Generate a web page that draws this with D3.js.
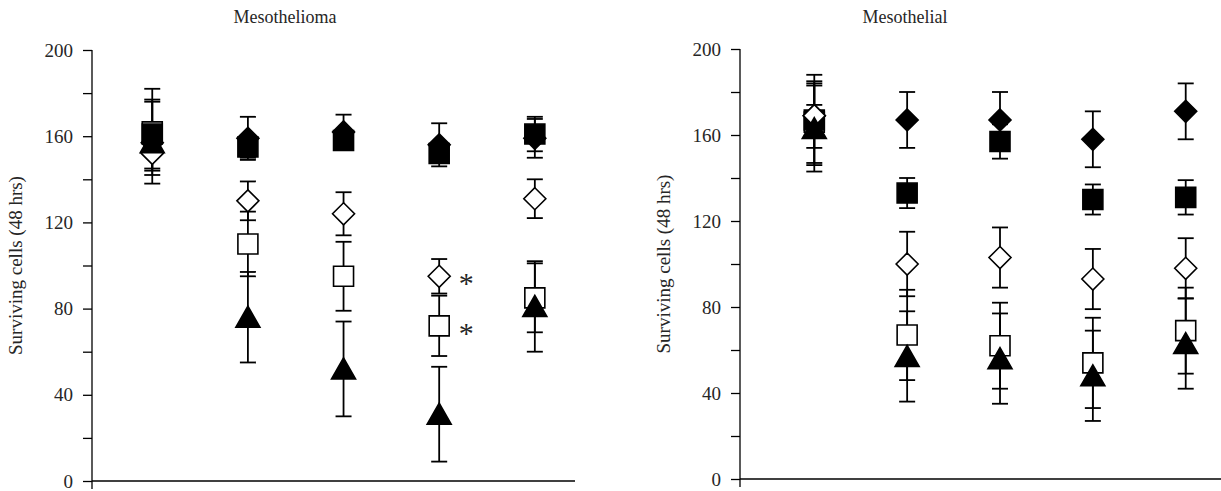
<!DOCTYPE html>
<html>
<head>
<meta charset="utf-8">
<script src="https://cdn.jsdelivr.net/npm/d3@7"></script>
<style>
  body { margin: 0; background: #fff; }
  svg text { font-family: "Liberation Serif", "DejaVu Serif", serif; fill: #262626; }
</style>
</head>
<body>
<div id="chart"></div>
<script>
// x positions are just the five treatment groups (no labels in the figure)
const groups = [1, 2, 3, 4, 5];
const yTicks = [0, 20, 40, 60, 80, 100, 120, 140, 160, 180, 200];
const yTickLabels = [0, 40, 80, 120, 160, 200];
const yTitle = "Surviving cells (48 hrs)";

// Mesothelioma panel: mean and error for each marker series
const tumorFilledDiamond = [157, 159, 162, 156, 159];
const tumorFilledDiamondErr = [6, 10, 8, 10, 9];
const tumorFilledSquare = [161, 155, 158, 152, 161];
const tumorFilledSquareErr = [16, 5, 4, 4, 8];
const tumorOpenDiamond = [152, 130, 124, 95, 131];
const tumorOpenDiamondErr = [8, 9, 10, 8, 9];
const tumorOpenSquare = [162, 110, 95, 72, 85];
const tumorOpenSquareErr = [20, 15, 16, 14, 16];
const tumorTriangle = [157, 76, 52, 31, 81];
const tumorTriangleErr = [19, 21, 22, 22, 21];
// significance marks: [group, value]
const tumorStars = [[4, 95], [4, 72]];

// Mesothelial panel
const normalFilledDiamond = [169, 167, 167, 158, 171];
const normalFilledDiamondErr = [15, 13, 13, 13, 13];
const normalFilledSquare = [167, 133, 157, 130, 131];
const normalFilledSquareErr = [21, 7, 8, 7, 8];
const normalOpenDiamond = [169, 100, 103, 93, 98];
const normalOpenDiamondErr = [5, 15, 14, 14, 14];
const normalOpenSquare = [166, 67, 62, 54, 69];
const normalOpenSquareErr = [19, 21, 20, 21, 20];
const normalTriangle = [163, 57, 56, 48, 63];
const normalTriangleErr = [20, 21, 21, 21, 21];

const W = 1221, H = 491;

// marker paths centred on their bounding box
function shapePath(shape) {
  if (shape == "square") return "M-10,-10H10V10H-10Z";
  if (shape == "diamond") return "M0,-11L11,0L0,11L-11,0Z";
  return "M0,-11L12,10L-12,10Z";
}

// drawing order, bottom to top
function seriesFor(p) {
  return [
    {vals: p.os, err: p.osErr, shape: "square", fill: "#fff"},
    {vals: p.fs, err: p.fsErr, shape: "square", fill: "#000"},
    {vals: p.fd, err: p.fdErr, shape: "diamond", fill: "#000"},
    {vals: p.od, err: p.odErr, shape: "diamond", fill: "#fff"},
    {vals: p.tri, err: p.triErr, shape: "triangle", fill: "#000"}
  ];
}

const panels = [
  {title: "Mesothelioma", titleX: 285, axisX: 92, right: 575, top: 50, bottom: 481, xDomain: [0.37, 5.42],
   fd: tumorFilledDiamond, fdErr: tumorFilledDiamondErr, fs: tumorFilledSquare, fsErr: tumorFilledSquareErr,
   od: tumorOpenDiamond, odErr: tumorOpenDiamondErr, os: tumorOpenSquare, osErr: tumorOpenSquareErr,
   tri: tumorTriangle, triErr: tumorTriangleErr, stars: tumorStars},
  {title: "Mesothelial", titleX: 905, axisX: 740, right: 1221, top: 49, bottom: 479, xDomain: [0.2, 5.38],
   fd: normalFilledDiamond, fdErr: normalFilledDiamondErr, fs: normalFilledSquare, fsErr: normalFilledSquareErr,
   od: normalOpenDiamond, odErr: normalOpenDiamondErr, os: normalOpenSquare, osErr: normalOpenSquareErr,
   tri: normalTriangle, triErr: normalTriangleErr, stars: []}
];

const svg = d3.select("#chart").append("svg")
  .attr("width", W)
  .attr("height", H);

svg.append("rect").attr("width", W).attr("height", H).attr("fill", "#fff");

panels.forEach(function(p) {
  const x = d3.scaleLinear().domain(p.xDomain).range([p.axisX, p.right]);
  const y = d3.scaleLinear().domain([0, 200]).range([p.bottom, p.top]);
  const g = svg.append("g");

  // title
  g.append("text")
    .attr("x", p.titleX)
    .attr("y", 23)
    .attr("text-anchor", "middle")
    .style("font-size", "18px")
    .text(p.title);

  // y axis
  const yAxis = d3.axisLeft(y)
    .tickValues(yTicks)
    .tickSize(9)
    .tickPadding(10)
    .tickFormat(function(d) { return yTickLabels.includes(d) ? d : ""; });

  const ax = g.append("g")
    .attr("transform", "translate(" + p.axisX + ",0)")
    .call(yAxis);
  ax.select(".domain").remove();
  ax.selectAll(".tick line").attr("stroke", "#000").attr("stroke-width", 1.3);
  ax.selectAll(".tick text")
    .style("font-size", "19px")
    .style("font-family", "'Liberation Serif', serif")
    .attr("fill", "#262626");

  g.append("line")
    .attr("x1", p.axisX).attr("x2", p.axisX)
    .attr("y1", y(200)).attr("y2", y(0) + 8)
    .attr("stroke", "#000").attr("stroke-width", 1.3);

  // x axis line, no ticks
  g.append("line")
    .attr("x1", p.axisX).attr("x2", p.right)
    .attr("y1", y(0)).attr("y2", y(0))
    .attr("stroke", "#000").attr("stroke-width", 1.3);

  g.append("text")
    .attr("transform", "translate(" + (p.axisX - 70) + "," + y(100) + ") rotate(-90)")
    .attr("text-anchor", "middle")
    .style("font-size", "19px")
    .text(yTitle);

  const series = seriesFor(p);

  // error bars behind markers
  series.forEach(function(s) {
    const eb = g.append("g").selectAll("g")
      .data(groups)
      .enter()
      .append("g")
      .attr("stroke", "#000")
      .attr("stroke-width", 1.8);
    eb.append("line")
      .attr("x1", function(d) { return x(d); })
      .attr("x2", function(d) { return x(d); })
      .attr("y1", function(d, i) { return y(s.vals[i] + s.err[i]); })
      .attr("y2", function(d, i) { return y(s.vals[i] - s.err[i]); });
    [1, -1].forEach(function(sign) {
      eb.append("line")
        .attr("x1", function(d) { return x(d) - 8; })
        .attr("x2", function(d) { return x(d) + 8; })
        .attr("y1", function(d, i) { return y(s.vals[i] + sign * s.err[i]); })
        .attr("y2", function(d, i) { return y(s.vals[i] + sign * s.err[i]); });
    });
  });

  // markers
  series.forEach(function(s) {
    g.append("g").selectAll("path")
      .data(groups)
      .enter()
      .append("path")
      .attr("d", shapePath(s.shape))
      .attr("transform", function(d, i) { return "translate(" + x(d) + "," + y(s.vals[i]) + ")"; })
      .attr("fill", s.fill)
      .attr("stroke", "#000")
      .attr("stroke-width", 1.6);
  });

  // asterisks
  g.selectAll(".star")
    .data(p.stars)
    .enter()
    .append("text")
    .attr("class", "star")
    .attr("x", function(d) { return x(d[0]) + 27; })
    .attr("y", function(d) { return y(d[1]) + 17; })
    .attr("text-anchor", "middle")
    .style("font-size", "30px")
    .text("*");
});
</script>
</body>
</html>
